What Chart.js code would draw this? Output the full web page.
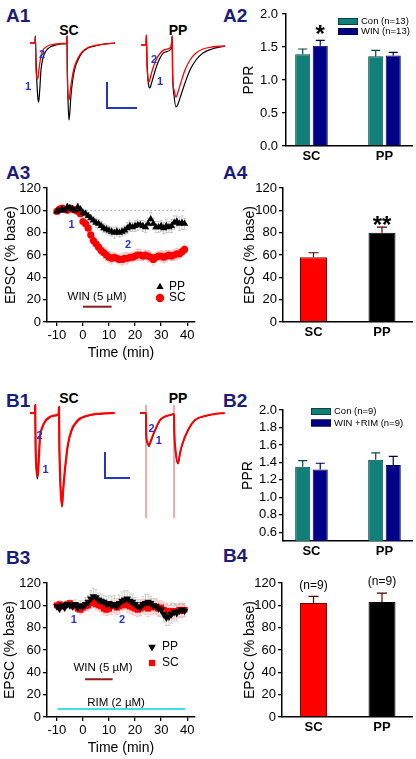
<!DOCTYPE html>
<html>
<head>
<meta charset="utf-8">
<script src="https://cdn.jsdelivr.net/npm/chart.js@4.4.1/dist/chart.umd.min.js"></script>
<style>
  body { margin: 0; width: 416px; height: 759px; position: relative; overflow: hidden; background: #fff;
         font-family: "Liberation Sans", Arial, sans-serif; }
  canvas { position: absolute; }
  .panel { position: absolute; font-weight: bold; font-size: 19px; line-height: 1; color: #1b1b7c; }
  .ttl { position: absolute; font-weight: bold; font-size: 14px; line-height: 1; transform: translateX(-50%); }
</style>
</head>
<body>
<div class="panel" style="left:6px;top:6px">A1</div>
<div class="panel" style="left:223px;top:6px">A2</div>
<div class="panel" style="left:6px;top:163px">A3</div>
<div class="panel" style="left:223px;top:163px">A4</div>
<div class="panel" style="left:6px;top:391px">B1</div>
<div class="panel" style="left:223px;top:391px">B2</div>
<div class="panel" style="left:6px;top:548px">B3</div>
<div class="panel" style="left:223px;top:546px">B4</div>
<div class="ttl" style="left:69px;top:23px">SC</div>
<div class="ttl" style="left:178px;top:23px">PP</div>
<div class="ttl" style="left:69px;top:391px">SC</div>
<div class="ttl" style="left:178px;top:391px">PP</div>

<canvas id="a1sc" width="120" height="100" style="left:20px;top:30px"></canvas>
<canvas id="a1pp" width="92" height="100" style="left:138px;top:30px"></canvas>
<canvas id="a2" width="201" height="165" style="left:215px;top:0px"></canvas>
<canvas id="a3" width="200" height="195" style="left:0px;top:175px"></canvas>
<canvas id="a4" width="201" height="170" style="left:215px;top:175px"></canvas>
<canvas id="b1sc" width="120" height="130" style="left:20px;top:400px"></canvas>
<canvas id="b1pp" width="92" height="130" style="left:138px;top:400px"></canvas>
<canvas id="b2" width="201" height="170" style="left:215px;top:395px"></canvas>
<canvas id="b3" width="200" height="189" style="left:0px;top:570px"></canvas>
<canvas id="b4" width="201" height="175" style="left:215px;top:570px"></canvas>

<script>
// ---------- data ----------
var minutes = [-10,-9,-8,-7,-6,-5,-4,-3,-2,-1,0,1,2,3,4,5,6,7,8,9,10,11,12,13,14,15,16,17,18,19,
               20,21,22,23,24,25,26,27,28,29,30,31,32,33,34,35,36,37,38,39];
var timeTicks = [-10, 0, 10, 20, 30, 40];

// A3: EPSC (% base), PP and SC pathways, WIN 5 uM
var a3PP = [99,100,101,100,103,102,101,100,103,101, 98,97,95,93,91,89,88,86,84,83,
            82,81,80,81,80,81,82,84,86,85, 86,87,87,86,85,88,92,88,85,85, 86,84,86,85,86,89,90,88,89,88];
var a3PPsem = [2,2,2,2,3,2,2,2,3,2, 2,3,3,3,3,4,4,4,4,4, 4,4,5,4,4,4,4,5,5,4, 5,5,4,5,5,5,6,5,5,5, 5,5,6,5,6,6,5,6,6,5];
var a3SC = [99,101,102,101,100,102,101,100,99,97, 90,88,84,78,73,70,67,64,62,60,
            58,57,58,57,56,56,57,57,58,58, 59,60,60,59,60,59,58,56,58,59, 59,58,59,60,59,60,61,61,63,65];
var a3SCsem = [2,2,2,2,2,2,2,2,2,3, 3,3,4,4,4,4,4,4,5,5, 5,5,4,4,4,5,5,5,4,4, 4,5,5,4,4,5,5,5,4,4, 5,5,5,4,4,5,5,4,4,4];

// B3: same with RIM 2 uM
var b3PP = [99,97,100,98,101,100,99,101,98,100, 99,101,103,106,108,107,105,104,103,101,
            102,100,101,99,102,104,105,106,104,103, 101,99,98,101,102,103,102,100,99,97, 96,92,89,90,92,94,93,95,96,95];
var b3PPsem = [3,3,3,3,3,3,3,4,4,4, 5,6,6,7,7,7,6,6,6,7, 7,8,8,7,7,8,8,7,7,7, 6,6,7,7,8,7,6,6,7,7, 6,7,7,8,8,8,7,6,6,5];
var b3SC = [100,101,99,100,101,102,100,99,97,96, 98,99,100,102,103,101,100,99,97,96,
            97,99,100,98,99,100,101,100,99,98, 97,96,97,99,98,97,99,98,99,97, 98,96,95,93,95,94,95,96,95,96];
var b3SCsem = [3,3,3,3,3,3,3,3,3,4, 4,4,5,5,5,5,5,5,5,5, 5,5,6,6,6,5,5,6,6,6, 6,6,6,6,6,7,7,6,6,6, 6,7,7,7,7,6,6,6,6,6];

var baseLineT = [-11, 39];
var a3WinT = [0, 11], a3WinLevel = [13.7, 13.7];
var b3WinT = [0.8, 11.4], b3WinLevel = [33.8, 33.8];
var b3RimT = [-9.7, 39.2], b3RimLevel = [7.2, 7.2];

// bar panels
var groups = ['SC', 'PP'];
var a2Con = [1.39, 1.36], a2ConSem = [0.08, 0.09];
var a2Win = [1.52, 1.37], a2WinSem = [0.08, 0.05];
var a4Epsc = [58, 80], a4Sem = [4, 5];
var b2Con = [1.35, 1.43], b2ConSem = [0.07, 0.08];
var b2WinRim = [1.32, 1.37], b2WinRimSem = [0.07, 0.10];
var b2Ticks = [0.6, 0.8, 1.0, 1.2, 1.4, 1.6, 1.8, 2.0];
var b4Epsc = [102, 103], b4Sem = [6, 8];

// sample traces: time (ms), current (pA); red = drug, black = control
var a1ScTime = [3,10.5,11,12,13.5,15,16,17.5,19.5,22.5,27,33,42,51,58,58.5,59,60,61.5,63,64.5,67.5,70.5,75,81,90,100.5,115.5,130.5];
var a1ScCon  = [0,0,70,-170,-420,-560,-590,-480,-270,-150,-80,-40,-20,-10,-5,70,-270,-570,-770,-670,-520,-350,-250,-170,-100,-50,-30,-10,0];
var a1ScWin  = [0,0,70,-250,-360,-350,-290,-210,-130,-70,-40,-20,-10,-5,0,70,-300,-520,-570,-500,-420,-300,-220,-150,-90,-45,-25,-10,0];
var a1PpTime = [4.5,12,12.5,13.5,15,16.5,18,19.5,22.5,27,33,40.5,49.5,51.3,51.9,54,57,60,64.5,70.5,78,87,97.5,111,130.5];
var a1PpCon  = [0,0,100,-150,-350,-420,-430,-400,-330,-230,-130,-70,-40,90,-270,-500,-620,-590,-500,-380,-250,-150,-80,-40,-10];
var a1PpWin  = [0,0,100,-200,-340,-370,-340,-300,-230,-150,-85,-45,-20,90,-300,-450,-520,-470,-370,-250,-150,-80,-40,-20,-10];
var a1ScaleT = [118.5, 118.5, 163.5], a1ScaleI = [-390, -650, -650];

var b1ScTime = [3,10.5,10.8,11.3,12.5,14.25,15.5,16.5,18,21,25.5,31.5,39,46,46.5,47,48.5,51,52.5,55.5,60,66,72,78,87,100,115,130];
var b1ScCon  = [0,0,80,-300,-550,-660,-560,-430,-240,-160,-90,-50,-30,-15,60,-300,-700,-940,-800,-570,-320,-170,-100,-60,-35,-15,-5,0];
var b1ScDrug = [0,0,80,-300,-540,-630,-540,-420,-240,-150,-85,-45,-25,-12,60,-300,-700,-930,-790,-560,-310,-160,-95,-55,-30,-12,-3,0];
var b1PpTime = [3,12,12.3,13.5,16.5,18,22.5,27,33,39,48,54,54.3,56,60,63,66,75,85.5,100.5,115,130];
var b1PpCon  = [0,0,-210,-290,-335,-310,-225,-155,-75,-42,-22,-12,-155,-360,-510,-410,-325,-175,-72,-32,-10,0];
var b1PpDrug = [0,0,-200,-280,-320,-300,-220,-150,-70,-40,-20,-10,-150,-350,-500,-400,-320,-170,-70,-30,-10,0];
var b1PpStim = [12, 54];
var b1ScaleT = [115.5, 115.5, 153], b1ScaleI = [-390, -650, -650];

// ---------- helpers ----------
var FONT = '"Liberation Sans", Arial, sans-serif';
Chart.defaults.font.family = FONT;
Chart.defaults.color = '#000';
Chart.defaults.animation = false;
Chart.defaults.responsive = false;
Chart.defaults.plugins.legend.display = false;
Chart.defaults.plugins.tooltip.enabled = false;

function el(id) { return document.getElementById(id); }
function xy(xs, ys) { return xs.map(function (x, i) { return {x: x, y: ys[i]}; }); }
function cat(ys) { return ys.map(function (y, i) { return {x: i + 1, y: y}; }); }

// error bars (bars: upward only; scatter: both ways, drawn underneath)
var errorBars = {
  id: 'errorBars',
  beforeDatasetsDraw: function (chart) {
    var ctx = chart.ctx, ys = chart.scales.y;
    chart.data.datasets.forEach(function (ds, i) {
      if (!ds.errors) return;
      var meta = chart.getDatasetMeta(i);
      ctx.save();
      ctx.strokeStyle = ds.errorColor || ds.borderColor;
      ctx.lineWidth = ds.errorWidth || 1;
      meta.data.forEach(function (pt, j) {
        var v = ds.data[j].y, e = ds.errors[j], c = (ds.capWidth || 6) / 2;
        var top = ys.getPixelForValue(v + e);
        var bot = ys.getPixelForValue(ds.errorBoth ? v - e : v);
        ctx.beginPath();
        ctx.moveTo(pt.x, top); ctx.lineTo(pt.x, bot);
        ctx.moveTo(pt.x - c, top); ctx.lineTo(pt.x + c, top);
        if (ds.errorBoth) { ctx.moveTo(pt.x - c, bot); ctx.lineTo(pt.x + c, bot); }
        ctx.stroke();
      });
      ctx.restore();
    });
  }
};

// text above bars (asterisks, n)
var topText = {
  id: 'topText',
  afterDatasetsDraw: function (chart) {
    var ctx = chart.ctx, ys = chart.scales.y;
    chart.data.datasets.forEach(function (ds, i) {
      if (!ds.topText) return;
      var meta = chart.getDatasetMeta(i);
      ctx.save();
      ctx.font = ds.topFont; ctx.fillStyle = '#000';
      ctx.textAlign = 'center'; ctx.textBaseline = 'middle';
      meta.data.forEach(function (bar, j) {
        if (!ds.topText[j]) return;
        var top = ys.getPixelForValue(ds.data[j].y + (ds.errors ? ds.errors[j] : 0));
        ctx.fillText(ds.topText[j], bar.x, top - ds.topGap);
      });
      ctx.restore();
    });
  }
};

// free labels placed in data coordinates
var notes = {
  id: 'notes',
  afterDraw: function (chart, args, o) {
    if (!o || !o.items) return;
    var ctx = chart.ctx, xs = chart.scales.x, ys = chart.scales.y;
    ctx.save();
    o.items.forEach(function (n) {
      ctx.font = n.font; ctx.fillStyle = n.color || '#000';
      ctx.textAlign = 'center'; ctx.textBaseline = 'middle';
      ctx.fillText(n.text, xs.getPixelForValue(n.x), ys.getPixelForValue(n.y));
    });
    ctx.restore();
  }
};

// small legend inside the plot area
var keyBox = {
  id: 'keyBox',
  afterDraw: function (chart, args, o) {
    if (!o || o.x === undefined) return;
    var ctx = chart.ctx, a = chart.chartArea, row = 0;
    ctx.save();
    ctx.font = o.fontSize + 'px ' + FONT;
    ctx.textBaseline = 'middle'; ctx.textAlign = 'left';
    chart.data.datasets.forEach(function (ds) {
      if (!ds.inLegend) return;
      var x = a.left + o.x, y = a.top + o.y + row * o.step;
      if (o.kind === 'box') {
        ctx.fillStyle = ds.backgroundColor;
        ctx.fillRect(x, y - o.h / 2, o.w, o.h);
        ctx.strokeStyle = ds.borderColor; ctx.lineWidth = 1;
        ctx.strokeRect(x + 0.5, y - o.h / 2 + 0.5, o.w - 1, o.h - 1);
        ctx.fillStyle = '#000';
        ctx.fillText(ds.label, x + o.w + o.gap, y);
      } else {
        ctx.fillStyle = ds.backgroundColor; ctx.strokeStyle = ds.backgroundColor;
        Chart.helpers.drawPoint(ctx, {pointStyle: ds.pointStyle, radius: o.r,
          rotation: ds.pointRotation || 0, borderWidth: 0}, x, y);
        ctx.fillStyle = '#000';
        ctx.fillText(ds.label, x + o.gap, y);
      }
      row++;
    });
    ctx.restore();
  }
};

Chart.register(errorBars, topText, notes, keyBox);

function yScale(min, max, step, title, width, titlePad, extra) {
  extra = extra || {};
  var s = {
    type: 'linear', min: min, max: max,
    ticks: {stepSize: step, font: {size: 13}, color: '#000', padding: extra.pad || 2},
    grid: {drawOnChartArea: false, tickLength: 4, color: '#000', lineWidth: 1.3},
    border: {color: '#000', width: 1.5},
    title: {display: true, text: title, font: {size: 14}, color: '#000', padding: {top: titlePad, bottom: 0}},
    afterFit: function (sc) { sc.width = width; }
  };
  if (extra.fmt) s.ticks.callback = function (v) { return v.toFixed(1); };
  if (extra.list) s.afterBuildTicks = function (sc) { sc.ticks = extra.list.map(function (v) { return {value: v}; }); };
  return s;
}

function timeX(height, titlePad) {
  return {
    type: 'linear', min: -13.8, max: 43,
    afterBuildTicks: function (s) { s.ticks = timeTicks.map(function (v) { return {value: v}; }); },
    ticks: {font: {size: 13}, color: '#000', padding: 2, maxRotation: 0},
    grid: {drawOnChartArea: false, tickLength: 4, color: '#000', lineWidth: 1.3},
    border: {color: '#000', width: 1.5},
    title: {display: true, text: 'Time (min)', font: {size: 14}, color: '#000', padding: {top: 0, bottom: titlePad}},
    afterFit: function (s) { s.height = height; }
  };
}

function barX(min, max, height, pad) {
  return {
    type: 'linear', min: min, max: max, offset: false,
    afterBuildTicks: function (s) { s.ticks = [{value: 1}, {value: 2}]; },
    ticks: {font: {size: 13, weight: 'bold'}, color: '#000', padding: pad,
            callback: function (v) { return groups[v - 1]; }},
    grid: {display: false, drawTicks: false},
    border: {color: '#000', width: 1.5},
    afterFit: function (s) { s.height = height; }
  };
}

function line(xs, ys, color, width, dash) {
  return {data: xy(xs, ys), showLine: true, borderColor: color, borderWidth: width,
          borderDash: dash || [], pointRadius: 0, tension: 0, cubicInterpolationMode: 'default'};
}

function traceChart(id, time, red, black, xr, yr, redWidth, extra, items) {
  var sets = [
    {data: xy(time, red), borderColor: '#ff0000', borderWidth: redWidth},
    {data: xy(time, black), borderColor: '#000000', borderWidth: 1.2}
  ].concat(extra);
  new Chart(el(id), {
    type: 'line',
    data: {datasets: sets},
    options: {
      layout: {padding: 0},
      elements: {point: {radius: 0}, line: {cubicInterpolationMode: 'monotone', fill: false}},
      scales: {
        x: {type: 'linear', display: false, min: xr[0], max: xr[1]},
        y: {type: 'linear', display: false, min: yr[0], max: yr[1]}
      },
      plugins: {notes: {items: items}}
    }
  });
}

var numFont = 'bold 11px ' + FONT, numColor = '#2233cc';
function num(t, x, y) { return {text: t, x: x, y: y, font: numFont, color: numColor}; }

// ---------- A1 / B1 traces ----------
traceChart('a1sc', a1ScTime, a1ScWin, a1ScCon, [-12, 168], [-870, 130], 1.3,
  [line(a1ScaleT, a1ScaleI, '#2436c8', 2)],
  [num('1', 0, -440), num('2', 21, -120)]);
traceChart('a1pp', a1PpTime, a1PpWin, a1PpCon, [0, 138], [-850, 150], 1.3, [],
  [num('2', 24, -145), num('1', 33, -365)]);

var artifact = [];
b1PpStim.forEach(function (t, i) {
  if (i) artifact.push({x: t - 10, y: null});
  artifact.push({x: t, y: 80}, {x: t, y: -1050});
});
traceChart('b1sc', b1ScTime, b1ScDrug, b1ScCon, [-12, 168], [-1170, 130], 2.2,
  [line(b1ScaleT, b1ScaleI, '#2436c8', 2)],
  [num('2', 17.25, -230), num('1', 26.5, -570)]);
traceChart('b1pp', b1PpTime, b1PpDrug, b1PpCon, [0, 138], [-1170, 130], 2,
  [{data: artifact, borderColor: 'rgba(225,120,120,0.55)', borderWidth: 1, spanGaps: false,
    tension: 0, cubicInterpolationMode: 'default'}],
  [num('2', 20.5, -155), num('1', 31.2, -280)]);

// ---------- PPR bars ----------
var teal = '#118078', tealEdge = '#0a4440', navy = '#000088', navyEdge = '#00004a';

new Chart(el('a2'), {
  type: 'bar',
  data: {datasets: [
    {label: 'Con (n=13)', data: cat(a2Con), errors: a2ConSem, backgroundColor: teal, borderColor: tealEdge,
     errorColor: tealEdge, borderWidth: 1, capWidth: 9, errorWidth: 1.2, inLegend: true,
     categoryPercentage: 0.48, barPercentage: 0.86},
    {label: 'WIN (n=13)', data: cat(a2Win), errors: a2WinSem, backgroundColor: navy, borderColor: navyEdge,
     errorColor: navyEdge, borderWidth: 1, capWidth: 9, errorWidth: 1.2, inLegend: true,
     categoryPercentage: 0.48, barPercentage: 0.86,
     topText: ['*', ''], topGap: 5, topFont: 'bold 24px ' + FONT}
  ]},
  options: {
    layout: {padding: {top: 14, right: 4, left: 0, bottom: 0}},
    scales: {x: barX(0.651, 2.377, 19, 3), y: yScale(0, 2, 0.5, 'PPR', 71, 25.6, {fmt: true, pad: 4})},
    plugins: {keyBox: {kind: 'box', x: 52, y: 7.5, step: 10, w: 20, h: 7, gap: 3, fontSize: 9.5}}
  }
});

new Chart(el('b2'), {
  type: 'bar',
  data: {datasets: [
    {label: 'Con (n=9)', data: cat(b2Con), errors: b2ConSem, backgroundColor: teal, borderColor: tealEdge,
     errorColor: tealEdge, borderWidth: 1, capWidth: 9, errorWidth: 1.2, inLegend: true,
     categoryPercentage: 0.48, barPercentage: 0.86},
    {label: 'WIN +RIM (n=9)', data: cat(b2WinRim), errors: b2WinRimSem, backgroundColor: navy, borderColor: navyEdge,
     errorColor: navyEdge, borderWidth: 1, capWidth: 9, errorWidth: 1.2, inLegend: true,
     categoryPercentage: 0.48, barPercentage: 0.86}
  ]},
  options: {
    layout: {padding: {top: 15, right: 4, left: 0, bottom: 0}},
    scales: {x: barX(0.610, 2.377, 24, 3), y: yScale(0.5, 2, 0.2, 'PPR', 68, 24.6, {fmt: true, list: b2Ticks})},
    plugins: {keyBox: {kind: 'box', x: 28, y: 1.5, step: 11.5, w: 20, h: 7, gap: 3, fontSize: 9.5}}
  }
});

// ---------- EPSC summary bars ----------
new Chart(el('a4'), {
  type: 'bar',
  data: {datasets: [
    {data: cat(a4Epsc), errors: a4Sem, backgroundColor: ['#ff0000', '#000000'], borderColor: ['#7a0000', '#000000'],
     errorColor: '#5a0000', borderWidth: 1, capWidth: 10, errorWidth: 1.2,
     categoryPercentage: 1, barPercentage: 0.394,
     topText: ['', '**'], topGap: 1, topFont: 'bold 24px ' + FONT}
  ]},
  options: {
    layout: {padding: {top: 13, right: 4, left: 0, bottom: 0}},
    scales: {x: barX(0.555, 2.438, 23, 3), y: yScale(0, 120, 20, 'EPSC (% base)', 68, 26.6)},
  }
});

new Chart(el('b4'), {
  type: 'bar',
  data: {datasets: [
    {data: cat(b4Epsc), errors: b4Sem, backgroundColor: ['#ff0000', '#000000'], borderColor: ['#7a0000', '#000000'],
     errorColor: '#5a0000', borderWidth: 1, capWidth: 10, errorWidth: 1.2,
     categoryPercentage: 1, barPercentage: 0.394,
     topText: ['(n=9)', '(n=9)'], topGap: 11, topFont: '12px ' + FONT}
  ]},
  options: {
    layout: {padding: {top: 13, right: 4, left: 0, bottom: 0}},
    scales: {x: barX(0.54, 2.438, 28, 3), y: yScale(0, 120, 20, 'EPSC (% base)', 67, 26.6)}
  }
});

// ---------- time courses ----------
var smallFont = '11.5px ' + FONT;

new Chart(el('a3'), {
  type: 'scatter',
  data: {datasets: [
    {label: 'PP', data: xy(minutes, a3PP), errors: a3PPsem, errorBoth: true, errorColor: '#c8c8c8', capWidth: 3,
     pointStyle: 'triangle', pointRadius: 4.2, backgroundColor: '#000', borderColor: '#000', borderWidth: 0, inLegend: true},
    {label: 'SC', data: xy(minutes, a3SC), errors: a3SCsem, errorBoth: true, errorColor: '#ffb4b4', capWidth: 3,
     pointStyle: 'circle', pointRadius: 3.6, backgroundColor: '#ff0000', borderColor: '#ff0000', borderWidth: 0, inLegend: true},
    line(baseLineT, [100, 100], '#a0a0d4', 1, [2, 2]),
    line(a3WinT, a3WinLevel, '#8b1c1c', 2)
  ]},
  options: {
    layout: {padding: {top: 13, right: 5, left: 0, bottom: 0}},
    scales: {x: timeX(48, 8), y: yScale(0, 120, 20, 'EPSC (% base)', 47, 3)},
    plugins: {
      notes: {items: [
        {text: 'WIN (5 \u00b5M)', x: 5.4, y: 22.4, font: smallFont},
        num('1', -4.4, 86.8), num('2', 17.3, 69)
      ]},
      keyBox: {kind: 'point', x: 113, y: 99, step: 11, r: 4.2, gap: 9, fontSize: 12}
    }
  }
});

new Chart(el('b3'), {
  type: 'scatter',
  data: {datasets: [
    {label: 'PP', data: xy(minutes, b3PP), errors: b3PPsem, errorBoth: true, errorColor: '#cfcfcf', capWidth: 3,
     pointStyle: 'triangle', pointRotation: 180, pointRadius: 4.4, backgroundColor: '#000', borderColor: '#000',
     borderWidth: 0, inLegend: true},
    {label: 'SC', data: xy(minutes, b3SC), errors: b3SCsem, errorBoth: true, errorColor: '#ffbcbc', capWidth: 3,
     pointStyle: 'rect', pointRadius: 4.2, backgroundColor: '#ff0000', borderColor: '#ff0000', borderWidth: 0, inLegend: true},
    line(baseLineT, [101, 101], '#a0a0d4', 1, [2, 2]),
    line(b3WinT, b3WinLevel, '#8b1c1c', 2),
    line(b3RimT, b3RimLevel, '#40e0e0', 2)
  ]},
  options: {
    layout: {padding: {top: 13, right: 5, left: 0, bottom: 0}},
    scales: {x: timeX(42, 2.6), y: yScale(0, 120, 20, 'EPSC (% base)', 47, 1.6)},
    plugins: {
      notes: {items: [
        {text: 'WIN (5 \u00b5M)', x: 7.7, y: 43.9, font: smallFont},
        {text: 'RIM (2 \u00b5M)', x: 12.7, y: 12.5, font: smallFont},
        num('1', -3.5, 86.8), num('2', 15, 86.8)
      ]},
      keyBox: {kind: 'point', x: 105, y: 64, step: 16, r: 4.4, gap: 10, fontSize: 12}
    }
  }
});
</script>
</body>
</html>
